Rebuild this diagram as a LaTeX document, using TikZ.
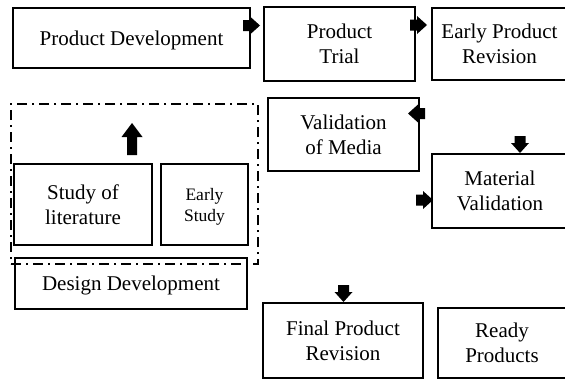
\documentclass[tikz,border=0pt]{standalone}
\usepackage{fontspec}
\setmainfont{Liberation Serif}
\begin{document}
\begin{tikzpicture}[x=1pt,y=-1pt,
  box/.style={draw, line width=2pt, align=center, inner sep=0pt, text depth=0pt, font=\fontsize{21}{25}\selectfont},
  smallbox/.style={box, font=\fontsize{17.5}{21}\selectfont},
  groupbox/.style={draw, line width=2pt, inner sep=0pt, dash pattern=on 10pt off 5pt on 2pt off 5pt},
  pics/shortarrow/.style={code={\fill (-17,-5.5) -- (-10,-5.5) -- (-10,-9) -- (0,0) -- (-10,9) -- (-10,5.5) -- (-17,5.5) -- cycle;}},
  pics/longarrow/.style={code={\fill (-32,-5) -- (-14,-5) -- (-14,-10.5) -- (0,0) -- (-14,10.5) -- (-14,5) -- (-32,5) -- cycle;}}
]
\useasboundingbox (0,0) rectangle (565,380);
\clip (0,0) rectangle (565,380);

% top row
\node[box, minimum width=237, minimum height=60] (pd) at (131.5,38) {Product Development};
\node[box, minimum width=151, minimum height=74] (pt) at (339.5,44) {Product\\Trial};
\node[box, minimum width=135, minimum height=72] (ep) at (499.5,44) {Early Product\\Revision};

% middle
\node[box, minimum width=151, minimum height=73] (vom) at (343.5,134.5) {Validation\\of Media};
\node[box, minimum width=136, minimum height=74] (mv) at (500,191) {Material\\Validation};

% left group
\node[groupbox, minimum width=247, minimum height=160] (grp) at (134.5,184) {};
\node[box, minimum width=138, minimum height=81] (sol) at (83,204.5) {Study of\\literature};
\node[smallbox, minimum width=87, minimum height=81] (es) at (204.5,204.5) {Early\\Study};
\node[box, minimum width=232, minimum height=51] (dd) at (131,283.5) {Design Development};

% bottom
\node[box, minimum width=160, minimum height=75] (fpr) at (343,340.5) {Final Product\\Revision};
\node[box, minimum width=128, minimum height=70] (rp) at (502,343) {Ready\\Products};

% block arrows
\pic at (260,25.5) {shortarrow};
\pic at (427,25) {shortarrow};
\pic[rotate=180] at (408,113.5) {shortarrow};
\pic[rotate=-90] at (520,153) {shortarrow};
\pic at (433,200) {shortarrow};
\pic[rotate=-90] at (343.5,302) {shortarrow};
\pic[rotate=90] at (132,123) {longarrow};
\end{tikzpicture}
\end{document}
